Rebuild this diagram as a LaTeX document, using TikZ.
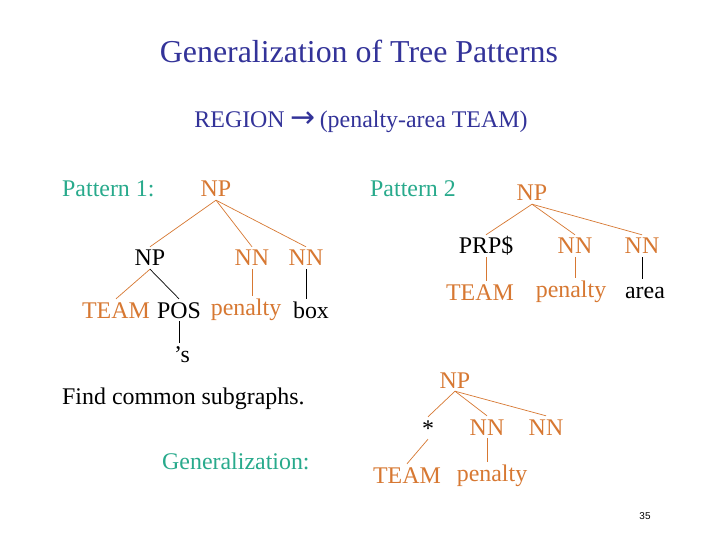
\documentclass[tikz,border=0pt]{standalone}
\usepackage{fontspec}
\setmainfont{Liberation Serif}
\newfontfamily\symfont{DejaVu Sans}
\newfontfamily\numfont{Liberation Sans}
\definecolor{navyc}{RGB}{51,51,153}
\definecolor{tealc}{RGB}{40,170,140}
\definecolor{orangec}{RGB}{215,120,50}
\tikzset{
  lbl/.style={font=\fontsize{24}{28}\selectfont, inner sep=0pt, anchor=base},
  tn/.style={lbl, inner xsep=1bp, inner ysep=3bp, text height=16bp, text depth=0pt},
  otn/.style={tn, text=orangec},
  oedge/.style={draw=orangec, line width=0.7bp},
  bedge/.style={draw=black, line width=0.7bp}
}

\begin{document}
\begin{tikzpicture}[x=1bp,y=-1bp]
    \useasboundingbox[fill=white] (0,0) rectangle (720,540);
    \node[lbl, navyc, font=\fontsize{32}{36}\selectfont] (title) at (359,63) {Generalization of Tree Patterns};
    \node[lbl, navyc] (rule) at (361,128) {REGION {\symfont\fontsize{30}{30}\selectfont →}\,(penalty-area TEAM)};

    % pattern 1
    \node[lbl, tealc, anchor=base west] (pone) at (62,197) {Pattern 1:};
    \node[otn] (a-np) at (216,197) {NP};
    \node[tn] (a-np2) at (150,266) {NP};
    \node[otn] (a-nn1) at (252,266) {NN};
    \node[otn] (a-nn2) at (306,266) {NN};
    \node[otn] (a-team) at (116,318) {TEAM};
    \node[tn] (a-pos) at (179,318) {POS};
    \node[otn] (a-pen) at (246,315) {penalty};
    \node[tn] (a-box) at (311,318) {box};
    \node[tn] (a-s) at (182,362) {’s};
    \draw[oedge] (a-np.south) -- (a-np2.north);
    \draw[oedge] (a-np.south) -- (a-nn1.north);
    \draw[oedge] (a-np.south) -- (a-nn2.north);
    \draw[oedge] (a-np2.south) -- (a-team.north);
    \draw[bedge] (a-np2.south) -- (a-pos.north);
    \draw[oedge] (a-nn1.south) -- (a-nn1.south |- a-pen.north);
    \draw[bedge] (a-nn2.south) -- (a-nn2.south |- a-box.north);
    \draw[bedge] (a-pos.south) -- (a-pos.south |- a-s.north);

    % pattern 2
    \node[lbl, tealc, anchor=base west] (ptwo) at (370,197) {Pattern 2};
    \node[otn] (b-np) at (532,201) {NP};
    \node[tn] (b-prp) at (486,254) {PRP\$};
    \node[otn] (b-nn1) at (575,254) {NN};
    \node[otn] (b-nn2) at (642,254) {NN};
    \node[otn] (b-team) at (480,300) {TEAM};
    \node[otn] (b-pen) at (571,297) {penalty};
    \node[tn] (b-area) at (645,298) {area};
    \draw[oedge] (b-np.south) -- (b-prp.north);
    \draw[oedge] (b-np.south) -- (b-nn1.north);
    \draw[oedge] (b-np.south) -- (b-nn2.north);
    \draw[oedge] (b-prp.south) -- (b-prp.south |- b-team.north);
    \draw[oedge] (b-nn1.south) -- (b-nn1.south |- b-pen.north);
    \draw[bedge] (b-nn2.south) -- (b-nn2.south |- b-area.north);

    \node[lbl, anchor=base west] (find) at (62,404) {Find common subgraphs.};
    \node[lbl, tealc, anchor=base west] (gen) at (162,469) {Generalization:};

    % generalization
    \node[otn] (c-np) at (455,388) {NP};
    \node[tn] (c-star) at (428,436) {*};
    \node[otn] (c-nn1) at (487,435) {NN};
    \node[otn] (c-nn2) at (546,435) {NN};
    \node[otn] (c-team) at (407,483) {TEAM};
    \node[otn] (c-pen) at (492,481) {penalty};
    \draw[oedge] (c-np.south) -- (c-star.north);
    \draw[oedge] (c-np.south) -- (c-nn1.north);
    \draw[oedge] (c-np.south) -- (c-nn2.north);
    \draw[oedge] (c-star.south) -- (c-team.north);
    \draw[oedge] (c-nn1.south) -- (c-nn1.south |- c-pen.north);

    \node[lbl, font=\numfont\fontsize{10}{12}\selectfont] (page) at (645,519) {35};
\end{tikzpicture}
\end{document}
